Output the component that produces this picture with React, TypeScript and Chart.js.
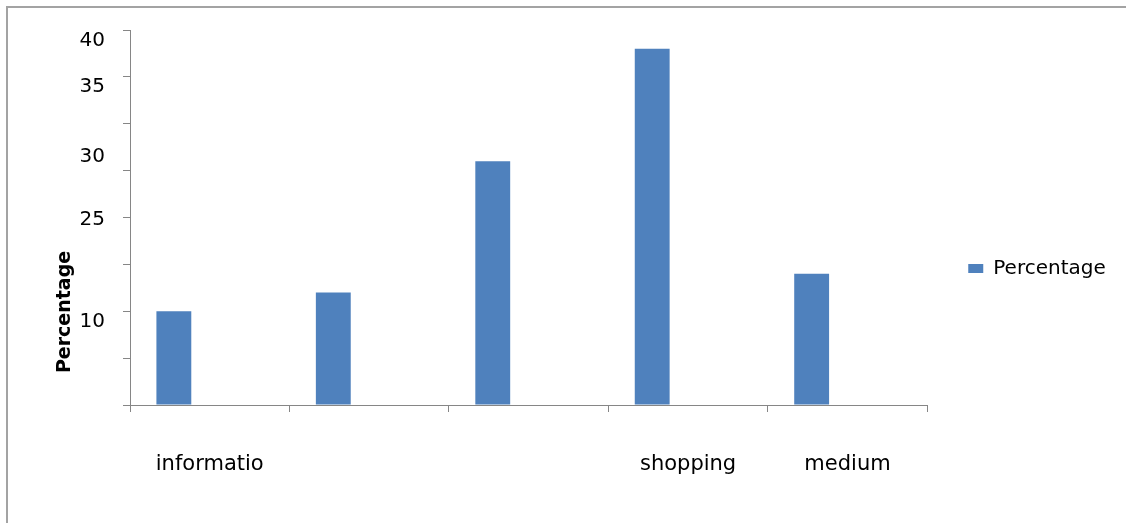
import React, { useEffect, useRef } from "react";
import { Chart, registerables } from "chart.js";

Chart.register(...registerables);

// Categories along the x axis (only some carry a printed name)
const categories = ["informatio", "", "", "shopping", "medium"];
// Share of respondents per category, in percent
const percentages = [10, 12, 26, 38, 14];
// Second, empty series slot that keeps each bar at the left of its category
const emptySeries = [null, null, null, null, null];

// Numbers printed beside the y axis, and the values they sit next to
const yTickLabels = ["40", "35", "30", "25", "10"];
const yTickLabelValues = [38.8, 33.9, 26.5, 19.8, 8.9];

const seriesName = "Percentage";
const yAxisTitle = "Percentage";

const AXIS_GREY = "#868686";
const BAR_BLUE = "#4f81bd";
const FONT = "'DejaVu Sans', sans-serif";

// Draws the rotated bold y-axis title
const yTitlePlugin = {
  id: "yTitle",
  afterDraw(chart: any) {
    const { ctx, chartArea } = chart;
    ctx.save();
    ctx.fillStyle = "#000";
    ctx.font = `bold 19px ${FONT}`;
    ctx.textAlign = "center";
    ctx.textBaseline = "middle";
    ctx.translate(57, chartArea.top + (chartArea.bottom - chartArea.top) * 0.752);
    ctx.rotate(-Math.PI / 2);
    ctx.fillText(yAxisTitle, 0, 0);
    ctx.restore();
  },
};

// Gives the legend box extra room so its label is never squeezed
const legendRoomPlugin = {
  id: "legendRoom",
  afterInit(chart: any) {
    const legend = chart.legend;
    if (!legend) return;
    const fit = legend.fit;
    legend.fit = function () {
      fit.call(this);
      this.width += 28;
    };
  },
};

export default function App() {
  const canvasRef = useRef<HTMLCanvasElement | null>(null);

  useEffect(() => {
    if (!canvasRef.current) return;
    Chart.defaults.font.family = FONT;
    Chart.defaults.color = "#000";

    const chart = new Chart(canvasRef.current, {
      type: "bar",
      data: {
        labels: categories,
        datasets: [
          {
            label: seriesName,
            data: percentages,
            backgroundColor: BAR_BLUE,
            borderWidth: 0,
            categoryPercentage: 0.9,
            barPercentage: 0.486,
          },
          {
            label: "",
            data: emptySeries as any,
            backgroundColor: BAR_BLUE,
            borderWidth: 0,
            categoryPercentage: 0.9,
            barPercentage: 0.486,
          },
        ],
      },
      options: {
        animation: false,
        responsive: false,
        maintainAspectRatio: false,
        layout: { padding: { top: 22, bottom: 16, left: 0, right: 0 } },
        plugins: {
          tooltip: { enabled: false },
          title: { display: false },
          legend: {
            position: "right",
            labels: {
              boxWidth: 15,
              boxHeight: 9,
              padding: 10,
              color: "#000",
              font: { size: 20, family: FONT },
              filter: (item: any) => item.datasetIndex === 0,
            },
          },
        },
        scales: {
          x: {
            grid: {
              display: true,
              drawOnChartArea: false,
              drawTicks: true,
              tickLength: 7,
              color: AXIS_GREY,
              offset: true,
            },
            border: { display: true, color: AXIS_GREY, width: 1 },
            ticks: {
              padding: 40,
              autoSkip: false,
              maxRotation: 0,
              color: "#000",
              font: { size: 21, family: FONT },
            },
            afterFit: (s: any) => {
              s.height = 102;
            },
          },
          y: {
            position: "left",
            weight: 0,
            min: 0,
            max: 40,
            grid: {
              display: true,
              drawOnChartArea: false,
              drawTicks: true,
              tickLength: 7,
              color: AXIS_GREY,
            },
            border: { display: true, color: AXIS_GREY, width: 1 },
            ticks: { stepSize: 5, autoSkip: false, callback: () => "" },
            afterFit: (s: any) => {
              s.width = 25;
            },
          },
          yLabels: {
            position: "left",
            weight: 1,
            min: 0,
            max: 40,
            grid: { display: false, drawTicks: false, tickLength: 0 },
            border: { display: false },
            ticks: {
              autoSkip: false,
              padding: 0,
              color: "#000",
              font: { size: 20, family: FONT },
              callback: (_v: any, i: number) => yTickLabels[i],
            },
            afterBuildTicks: (s: any) => {
              s.ticks = yTickLabelValues.map((v) => ({ value: v }));
            },
            afterFit: (s: any) => {
              s.width = 97;
            },
          },
          spacer: {
            position: "right",
            display: true,
            grid: { display: false },
            border: { display: false },
            ticks: { display: false },
            afterFit: (s: any) => {
              s.width = 31;
            },
          },
        },
      } as any,
      plugins: [yTitlePlugin, legendRoomPlugin],
    });

    return () => chart.destroy();
  }, []);

  return (
    <div
      style={{
        position: "absolute",
        left: 6,
        top: 6,
        width: 1120,
        height: 517,
        borderTop: "2px solid #a3a3a3",
        borderLeft: "2px solid #a3a3a3",
        background: "#fff",
      }}
    >
      <canvas ref={canvasRef} width={1118} height={515} style={{ display: "block" }} />
    </div>
  );
}
